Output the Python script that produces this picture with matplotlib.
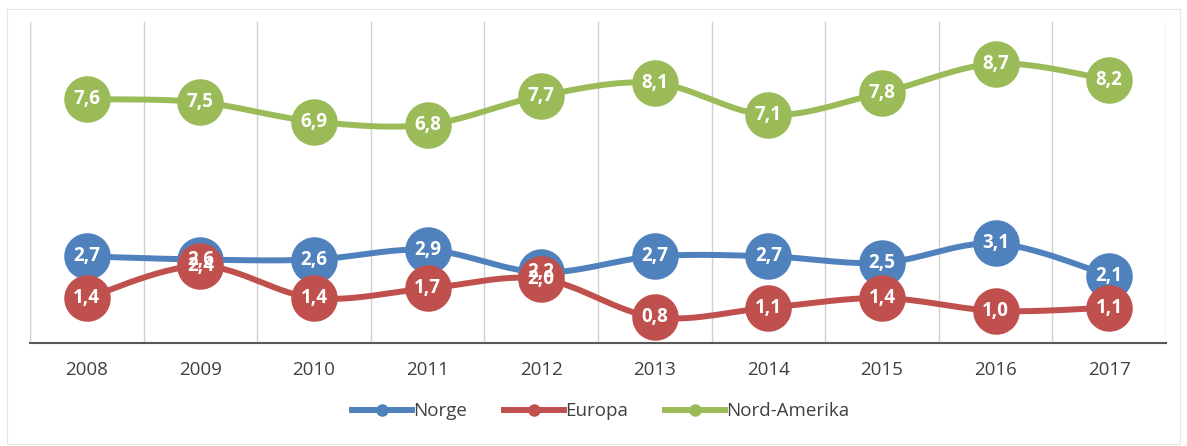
import numpy as np
import matplotlib
matplotlib.use("Agg")
import matplotlib.pyplot as plt
from matplotlib.lines import Line2D
from matplotlib.patches import Rectangle

years = ["2008", "2009", "2010", "2011", "2012", "2013", "2014", "2015", "2016", "2017"]
norge = [2.7, 2.6, 2.6, 2.9, 2.2, 2.7, 2.7, 2.5, 3.1, 2.1]
europa = [1.4, 2.4, 1.4, 1.7, 2.0, 0.8, 1.1, 1.4, 1.0, 1.1]
nord_amerika = [7.6, 7.5, 6.9, 6.8, 7.7, 8.1, 7.1, 7.8, 8.7, 8.2]

series = [("Norge", norge, "#4F81BD"), ("Europa", europa, "#C0504D"), ("Nord-Amerika", nord_amerika, "#9BBB59")]

plt.rcParams['font.family'] = ['Open Sans', 'DejaVu Sans']


def smooth(x, y, n=30, t=0.5):
    x = np.asarray(x, float); y = np.asarray(y, float)
    px = np.concatenate([[x[0]], x, [x[-1]]])
    py = np.concatenate([[y[0]], y, [y[-1]]])
    xs, ys = [], []
    for i in range(1, len(px) - 2):
        p0, p1, p2, p3 = (px[i-1], py[i-1]), (px[i], py[i]), (px[i+1], py[i+1]), (px[i+2], py[i+2])
        c1 = (p1[0] + (p2[0]-p0[0])*t/3, p1[1] + (p2[1]-p0[1])*t/3)
        c2 = (p2[0] - (p3[0]-p1[0])*t/3, p2[1] - (p3[1]-p1[1])*t/3)
        s = np.linspace(0, 1, n)
        bx = (1-s)**3*p1[0] + 3*(1-s)**2*s*c1[0] + 3*(1-s)*s**2*c2[0] + s**3*p2[0]
        by = (1-s)**3*p1[1] + 3*(1-s)**2*s*c1[1] + 3*(1-s)*s**2*c2[1] + s**3*p2[1]
        xs.extend(bx); ys.extend(by)
    return np.array(xs), np.array(ys)


fig = plt.figure(figsize=(11.87, 4.46), dpi=100)
fig.patches.append(Rectangle((0.006, 0.005), 0.988, 0.975, transform=fig.transFigure,
                             fill=False, edgecolor="#E6E6E6", linewidth=0.8))
ax = fig.add_axes([30/1187, 103/446, 1136/1187, 321/446])
x = np.arange(len(years))
ax.set_xlim(-0.5, len(years) - 0.5)
ax.set_ylim(0, 10)

for b in np.arange(-0.5, len(years), 1.0):
    ax.axvline(b, color="#D0D0D0", linewidth=1.0, zorder=0)

for i, (name, vals, col) in enumerate(series):
    sx, sy = smooth(x, vals)
    ax.plot(sx, sy, color=col, linewidth=4.3, solid_capstyle="round", zorder=2 + i)
    ax.plot(x, vals, 'o', color=col, markersize=33.5, markeredgewidth=0, zorder=2 + i)

for i, (name, vals, col) in enumerate(series):
    for xi, v in zip(x, vals):
        ax.text(xi, v, f"{v:.1f}".replace(".", ","), ha="center", va="center",
                color="white", fontsize=13.5, fontweight="bold", zorder=10 + i)

for s in ["top", "right", "left"]:
    ax.spines[s].set_visible(False)
ax.spines["bottom"].set_color("#595959")
ax.spines["bottom"].set_linewidth(1.5)
ax.set_yticks([])
ax.set_xticks(x)
ax.set_xticklabels(years, fontsize=13.5, color="#404040")
ax.tick_params(axis="x", length=0, pad=13)

handles = [Line2D([0], [0], color=c, linewidth=4.3, marker='o', markersize=8) for _, _, c in series]
fig.legend(handles, [s[0] for s in series], loc="center", bbox_to_anchor=(0.506, 0.078), ncol=3,
           frameon=False, fontsize=13.5, handlelength=3.2, columnspacing=2.0, handletextpad=0.05,
           labelcolor="#404040")

fig.savefig("out.png", dpi=100)
